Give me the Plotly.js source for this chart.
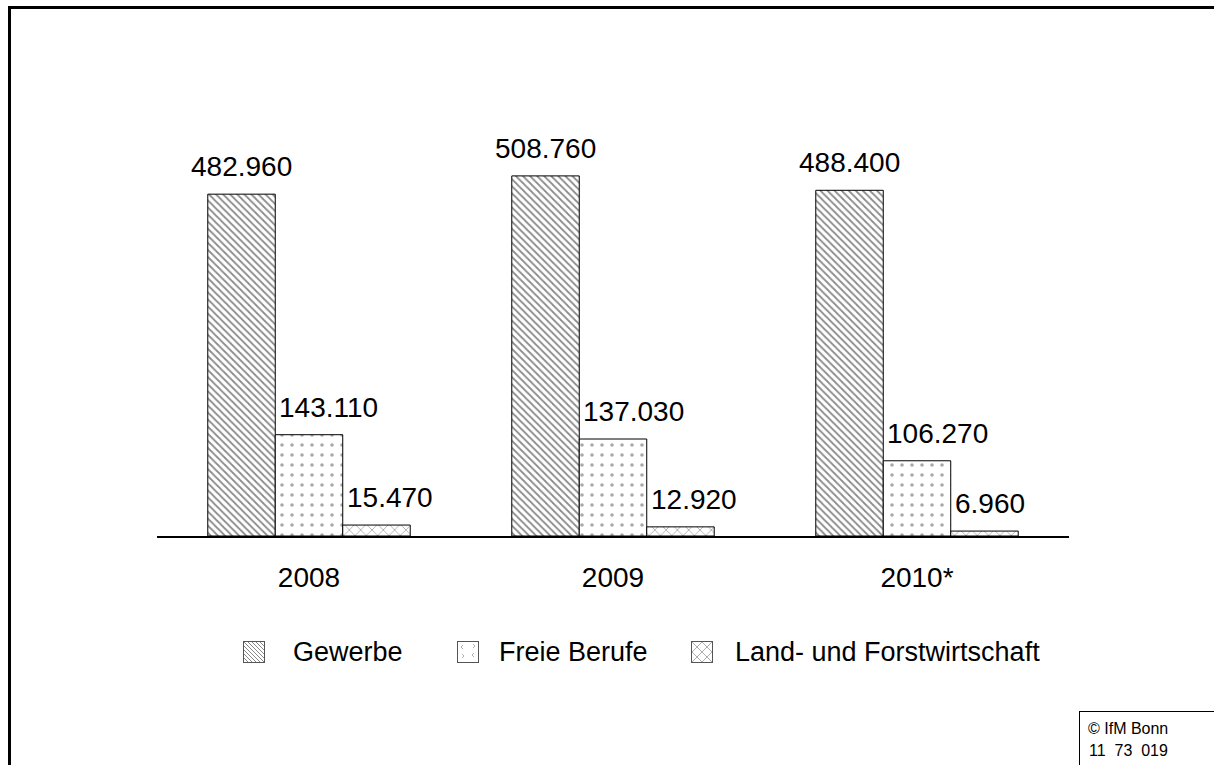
<!DOCTYPE html>
<html>
<head>
<meta charset="utf-8">
<script src="https://cdn.plot.ly/plotly-3.0.1.min.js"></script>
<style>
html,body{margin:0;padding:0;background:#fff;overflow:hidden;width:1214px;height:765px;}
#chart{position:absolute;left:0;top:0;width:1214px;height:765px;}
#frame{position:absolute;left:8px;top:6px;width:1300px;height:900px;border-left:3px solid #000;border-top:3px solid #000;pointer-events:none;z-index:10;}
#footbox{position:absolute;left:1079px;top:711px;width:300px;height:200px;border-left:1px solid #000;border-top:1px solid #000;pointer-events:none;z-index:10;}
</style>
</head>
<body>
<div id="chart"></div>
<div id="frame"></div>
<div id="footbox"></div>
<script>
const categories = ['2008', '2009', '2010*'];
const seriesNames = ['Gewerbe', 'Freie Berufe', 'Land- und Forstwirtschaft'];
const gewerbe = [482960, 508760, 488400];
const freieBerufe = [143110, 137030, 106270];
const landForst = [15470, 12920, 6960];
const footerLines = ['© IfM Bonn', '11\u00a0 73\u00a0 019'];

const FONT = '"Liberation Sans", Arial, sans-serif';
const W = 1214, H = 765;
const L = 157, R = 145, T = 100, B = 229;
const PW = W - L - R, PH = H - T - B;
const px = x => (x - L) / PW;
const py = y => (H - B - y) / PH;
const bargap = 0.334;
const bw = (1 - bargap) / 3;

function fmt(v) { return String(v).replace(/\B(?=(\d{3})+(?!\d))/g, '.'); }

const traces = [
  { type: 'bar', x: categories, name: seriesNames[0], y: gewerbe, hoverinfo: 'skip', showlegend: false,
    marker: { color: '#fff', line: { color: '#000', width: 1 },
      pattern: { shape: '\\', fgcolor: '#8a8a8a', bgcolor: '#fff', size: 5, solidity: 0.35 } } },
  { type: 'bar', x: categories, name: seriesNames[1], y: freieBerufe, hoverinfo: 'skip', showlegend: false,
    marker: { color: '#fff', line: { color: '#000', width: 1 },
      pattern: { shape: '.', fgcolor: '#a8a8a8', bgcolor: '#fff', size: 10, solidity: 0.1 } } },
  { type: 'bar', x: categories, name: seriesNames[2], y: landForst, hoverinfo: 'skip', showlegend: false,
    marker: { color: '#fff', line: { color: '#000', width: 1 },
      pattern: { shape: 'x', fgcolor: '#8a8a8a', bgcolor: '#fff', size: 8, solidity: 0.15 } } }
];

const annotations = [];
categories.forEach((c, i) => {
  annotations.push({ x: i - bw, y: gewerbe[i], xref: 'x', yref: 'y', text: fmt(gewerbe[i]),
    showarrow: false, xanchor: 'center', yanchor: 'bottom', yshift: 10, font: { family: FONT, size: 28, color: '#000' } });
  annotations.push({ x: i - bw / 2, y: freieBerufe[i], xref: 'x', yref: 'y', text: fmt(freieBerufe[i]),
    showarrow: false, xanchor: 'left', yanchor: 'bottom', xshift: 2, yshift: 10, font: { family: FONT, size: 28, color: '#000' } });
  annotations.push({ x: i + bw / 2, y: landForst[i], xref: 'x', yref: 'y', text: fmt(landForst[i]),
    showarrow: false, xanchor: 'left', yanchor: 'bottom', xshift: 2, yshift: 10, font: { family: FONT, size: 28, color: '#000' } });
});

// legend (custom)
const legendX = [243, 457, 691];
const legendTextX = [293, 499, 735];
const legendY = 652;
function svgURI(s) { return 'data:image/svg+xml;charset=utf-8,' + encodeURIComponent(s); }
const swatchSVG = [
  "<svg xmlns='http://www.w3.org/2000/svg' width='22' height='22'><defs><pattern id='p' width='4' height='4' patternUnits='userSpaceOnUse'><path d='M0,0L4,4M-1,3L1,5M3,-1L5,1' stroke='#888' stroke-width='1'/></pattern></defs><rect x='0.5' y='0.5' width='21' height='21' fill='#fff'/><rect x='0.5' y='0.5' width='21' height='21' fill='url(#p)' stroke='#555' stroke-width='1'/></svg>",
  "<svg xmlns='http://www.w3.org/2000/svg' width='22' height='22'><rect x='0.5' y='0.5' width='21' height='21' fill='#fff' stroke='#555' stroke-width='1'/><path d='M6,4L4,6L6,8M16,3L18,5L16,7M5,13L7,15L5,17M17,12L15,14L17,16' fill='none' stroke='#999' stroke-width='0.8'/></svg>",
  "<svg xmlns='http://www.w3.org/2000/svg' width='22' height='22'><rect x='0.5' y='0.5' width='21' height='21' fill='#fff' stroke='#555' stroke-width='1'/><path d='M1,1L21,21M21,1L1,21M1,11L11,1L21,11L11,21Z' fill='none' stroke='#999' stroke-width='0.8'/></svg>"
];
const images = swatchSVG.map((s, i) => ({
  source: svgURI(s), xref: 'paper', yref: 'paper', x: px(legendX[i]), y: py(legendY - 11),
  sizex: 22 / PW, sizey: 22 / PH, xanchor: 'left', yanchor: 'top', sizing: 'stretch', layer: 'above'
}));
seriesNames.forEach((n, i) => {
  annotations.push({ x: px(legendTextX[i]), y: py(legendY), xref: 'paper', yref: 'paper', text: n,
    showarrow: false, xanchor: 'left', yanchor: 'middle', xshift: -2, font: { family: FONT, size: 27, color: '#000' } });
});

// footer
annotations.push({ x: px(1128), y: py(728), xref: 'paper', yref: 'paper', text: footerLines[0], showarrow: false,
  xanchor: 'center', yanchor: 'middle', font: { family: FONT, size: 16, color: '#000' } });
annotations.push({ x: px(1128), y: py(750), xref: 'paper', yref: 'paper', text: footerLines[1], showarrow: false,
  xanchor: 'center', yanchor: 'middle', font: { family: FONT, size: 16, color: '#000' } });

const layout = {
  width: W, height: H,
  margin: { l: L, r: R, t: T, b: B, pad: 0 },
  paper_bgcolor: '#fff', plot_bgcolor: '#fff',
  barmode: 'group', bargap: bargap, bargroupgap: 0,
  showlegend: false,
  font: { family: FONT, color: '#000' },
  xaxis: { type: 'category', range: [-0.5, 2.5], showline: true, linecolor: '#000', linewidth: 1.5,
    ticks: '', showgrid: false, zeroline: false, tickfont: { family: FONT, size: 28, color: '#000' }, ticklabelstandoff: 16, fixedrange: true },
  yaxis: { range: [0, 616000], visible: false, showgrid: false, zeroline: false, fixedrange: true },
  annotations: annotations, images: images
};

Plotly.newPlot('chart', traces, layout, { displayModeBar: false, staticPlot: true });
</script>
</body>
</html>
